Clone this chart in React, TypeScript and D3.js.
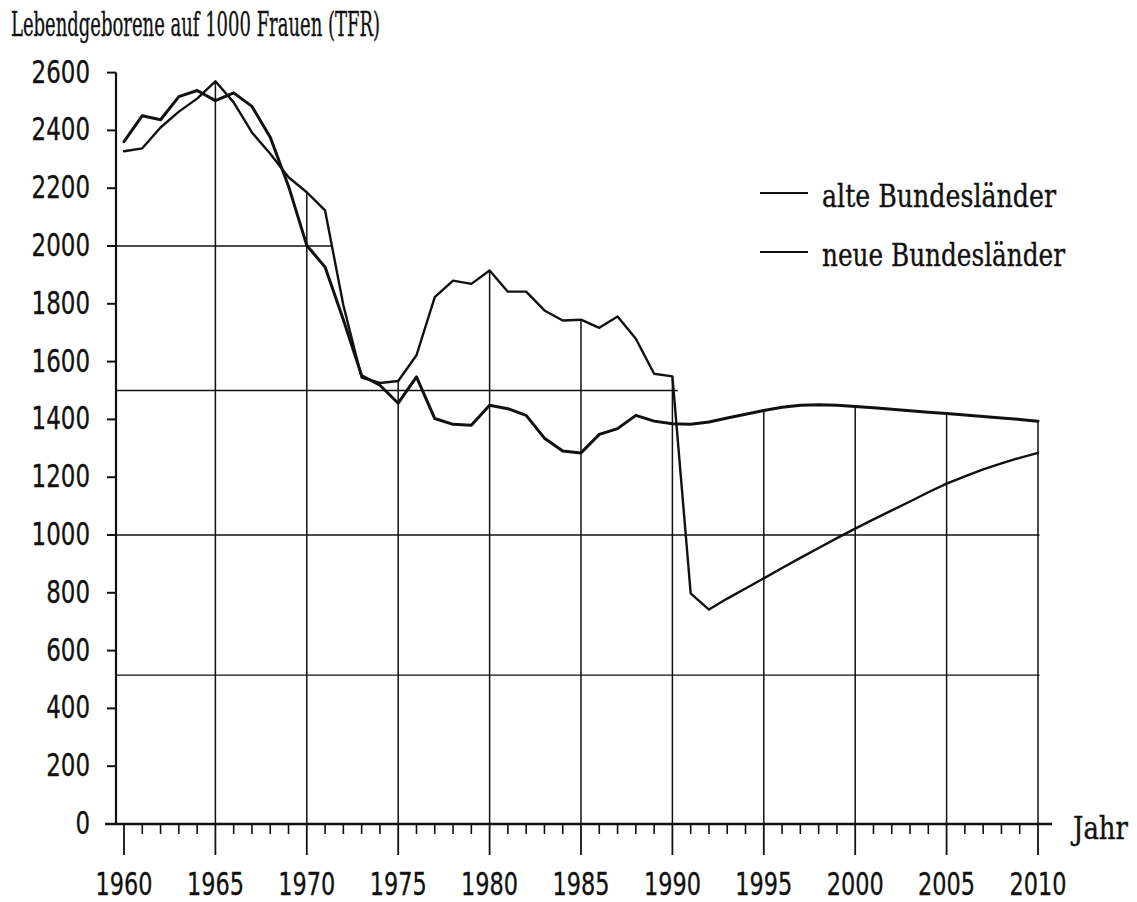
import React from "react";
import * as d3 from "d3";

const years: number[] = d3.range(1960, 2011);

// neue Bundesländer (East)
const neue: number[] = [
  2328, 2338, 2410, 2465, 2510, 2570, 2497, 2393, 2319, 2238,
  2186, 2123, 1795, 1545, 1526, 1533, 1622, 1823, 1880, 1869,
  1915, 1842, 1842, 1777, 1742, 1745, 1717, 1756, 1679, 1558,
  1549, 798, 742, 780, 815, 850, 886, 921, 955, 989,
  1022, 1054, 1085, 1116, 1148, 1178, 1203, 1227, 1248, 1267,
  1284,
];

// alte Bundesländer (West)
const alte: number[] = [
  2361, 2451, 2437, 2517, 2538, 2503, 2530, 2483, 2376, 2207,
  2002, 1927, 1745, 1552, 1518, 1456, 1547, 1403, 1383, 1380,
  1449, 1437, 1414, 1335, 1291, 1284, 1348, 1368, 1414, 1394,
  1385, 1383, 1391, 1405, 1418, 1431, 1442, 1449, 1451, 1449,
  1445, 1440, 1435, 1430, 1425, 1420, 1415, 1410, 1405, 1400,
  1394,
];

const yTicks: number[] = [0, 200, 400, 600, 800, 1000, 1200, 1400, 1600, 1800, 2000, 2200, 2400, 2600];
const xLabels: number[] = [1960, 1965, 1970, 1975, 1980, 1985, 1990, 1995, 2000, 2005, 2010];
const gridLevels: number[] = [2000, 1500, 1000, 515];
const gridYears: number[] = [1965, 1970, 1975, 1980, 1985, 1990, 1995, 2000, 2005, 2010];

const title = "Lebendgeborene auf 1000 Frauen (TFR)";
const legendItems = ["alte Bundesländer", "neue Bundesländer"];
const xTitle = "Jahr";

const INK = "#111";
const serif = "'DejaVu Serif Condensed', 'DejaVu Serif', serif";
const sans = "'Liberation Sans Narrow', 'DejaVu Sans Condensed', 'DejaVu Sans', sans-serif";

export default function App() {
  const x = d3.scaleLinear().domain([1960, 2010]).range([124, 1038]);
  const y = d3.scaleLinear().domain([0, 2600]).range([824, 72.6]);
  const axisX = 116;

  const envelope = years.map((yr, i) => Math.max(neue[i], alte[i]));

  const line = d3
    .line<number>()
    .x((_, i) => x(years[i]))
    .y((d) => y(d));

  const clipPts: [number, number][] = [
    [axisX, y(0)],
    [axisX, y(envelope[0])],
    ...years.map((yr, i) => [x(yr), y(envelope[i])] as [number, number]),
    [x(2010) + 1.5, y(envelope[envelope.length - 1])],
    [x(2010) + 1.5, y(0)],
  ];
  const clipD = d3.line()(clipPts) + "Z";

  const digitW = (s: string) => s.length * 14.6;

  return (
    <svg
      width={1137}
      height={902}
      style={{ position: "absolute", left: 0, top: 0, background: "#fff" }}
    >
      <defs>
        <clipPath id="env">
          <path d={clipD} />
        </clipPath>
      </defs>
      <rect x={0} y={0} width={1137} height={902} fill="#fff" />

      {/* title */}
      <text
        x={11}
        y={36}
        fontFamily={serif}
        fontSize={34}
        fill={INK}
        stroke={INK}
        strokeWidth={0.35}
        textLength={369}
        lengthAdjust="spacingAndGlyphs"
      >
        {title}
      </text>

      {/* horizontal grid lines, clipped under the envelope */}
      <g clipPath="url(#env)">
        {gridLevels.map((v) => (
          <line
            key={v}
            x1={axisX}
            x2={x(2010) + 2}
            y1={y(v)}
            y2={y(v)}
            stroke={INK}
            strokeWidth={1.4}
          />
        ))}
      </g>

      {/* vertical grid lines up to the envelope */}
      {gridYears.map((yr) => {
        const i = years.indexOf(yr);
        return (
          <line
            key={yr}
            x1={x(yr)}
            x2={x(yr)}
            y1={y(0)}
            y2={y(envelope[i])}
            stroke={INK}
            strokeWidth={1.5}
          />
        );
      })}

      {/* y axis */}
      <line x1={axisX} x2={axisX} y1={y(2600)} y2={y(0)} stroke={INK} strokeWidth={2.2} />
      {yTicks.map((t) => (
        <g key={t}>
          <line x1={axisX - 9} x2={axisX} y1={y(t)} y2={y(t)} stroke={INK} strokeWidth={2} />
          <text
            x={90}
            y={y(t) + 10}
            textAnchor="end"
            fontFamily={sans}
            fontSize={32}
            fill={INK}
            stroke={INK}
            strokeWidth={0.3}
            textLength={digitW(String(t))}
            lengthAdjust="spacingAndGlyphs"
          >
            {t}
          </text>
        </g>
      ))}

      {/* x axis */}
      <line x1={105} x2={1052} y1={y(0)} y2={y(0)} stroke={INK} strokeWidth={2.4} />
      {years.map((yr) => {
        const major = yr % 5 === 0;
        return (
          <line
            key={yr}
            x1={x(yr)}
            x2={x(yr)}
            y1={y(0)}
            y2={y(0) + (major ? 31 : 10)}
            stroke={INK}
            strokeWidth={major ? 1.8 : 1.6}
          />
        );
      })}
      {xLabels.map((yr) => (
        <text
          key={yr}
          x={x(yr)}
          y={895}
          textAnchor="middle"
          fontFamily={sans}
          fontSize={32}
          fill={INK}
          stroke={INK}
          strokeWidth={0.3}
          textLength={57}
          lengthAdjust="spacingAndGlyphs"
        >
          {yr}
        </text>
      ))}
      <text
        x={1073}
        y={839}
        fontFamily={serif}
        fontSize={32}
        fill={INK}
        stroke={INK}
        strokeWidth={0.35}
        textLength={55}
        lengthAdjust="spacingAndGlyphs"
      >
        {xTitle}
      </text>

      {/* data lines */}
      <path
        d={line(alte) || ""}
        fill="none"
        stroke={INK}
        strokeWidth={3}
        strokeLinejoin="round"
        strokeLinecap="round"
      />
      <path
        d={line(neue) || ""}
        fill="none"
        stroke={INK}
        strokeWidth={2.4}
        strokeLinejoin="round"
        strokeLinecap="round"
      />

      {/* legend */}
      {legendItems.map((label, i) => {
        const ly = 193 + i * 59;
        return (
          <g key={label}>
            <line x1={760} x2={808} y1={ly} y2={ly} stroke={INK} strokeWidth={2} />
            <text
              x={822}
              y={ly + 14}
              fontFamily={serif}
              fontSize={31}
              fill={INK}
              stroke={INK}
              strokeWidth={0.35}
              textLength={i === 0 ? 234 : 243}
              lengthAdjust="spacingAndGlyphs"
            >
              {label}
            </text>
          </g>
        );
      })}
    </svg>
  );
}
